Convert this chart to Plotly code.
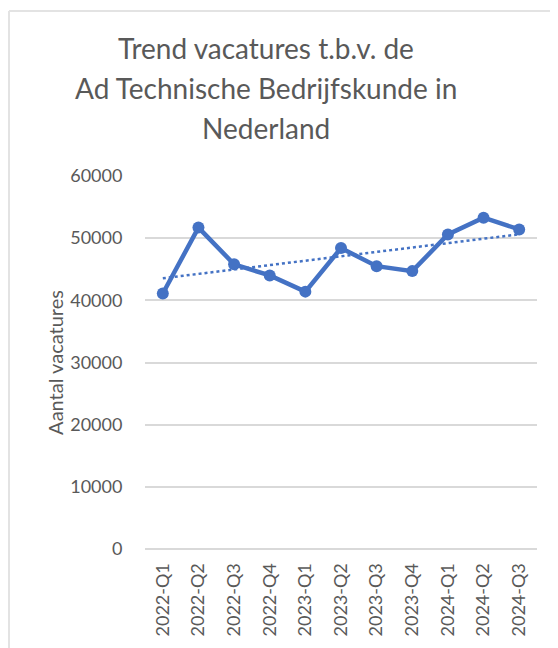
import numpy as np
import plotly.graph_objects as go

categories = ["2022-Q1", "2022-Q2", "2022-Q3", "2022-Q4", "2023-Q1", "2023-Q2",
              "2023-Q3", "2023-Q4", "2024-Q1", "2024-Q2", "2024-Q3"]
vacatures = [41100, 51700, 45800, 44000, 41400, 48400, 45500, 44700, 50600, 53300, 51400]
y_ticks = [0, 10000, 20000, 30000, 40000, 50000, 60000]
title_lines = ["Trend vacatures t.b.v. de", "Ad Technische Bedrijfskunde in", "Nederland"]

idx = np.arange(len(vacatures))
slope, intercept = np.polyfit(idx, vacatures, 1)
trend = slope * idx + intercept

blue = "#4472C4"
gray_text = "#595959"
grid = "#D9D9D9"
font = "Lato"

# plot area in screen pixels (page has 8px body margin)
PX0, PX1, PY0, PY1 = 145, 537, 176, 549
def px(x):
    return (x - PX0) / (PX1 - PX0)
def py(y):
    return (PY1 - y) / (PY1 - PY0)

fig = go.Figure()
fig.add_trace(go.Scatter(x=categories, y=vacatures, mode="lines+markers",
                         line=dict(color=blue, width=4.5),
                         marker=dict(color=blue, size=12), showlegend=False))
fig.add_trace(go.Scatter(x=categories, y=trend, mode="lines",
                         line=dict(color=blue, width=2.5, dash="dot"), showlegend=False))

title_y = [48, 88, 128]
annotations = [dict(text=t, xref="paper", yref="paper", x=px(266), y=py(yy),
                    xanchor="center", yanchor="middle", showarrow=False,
                    font=dict(family=font, size=28, color=gray_text))
               for t, yy in zip(title_lines, title_y)]

fig.update_layout(
    width=550, height=640,
    paper_bgcolor="white", plot_bgcolor="white",
    margin=dict(l=PX0 - 8, r=558 - PX1, t=PY0 - 8, b=648 - PY1),
    font=dict(family=font, color=gray_text),
    annotations=annotations,
    shapes=[
        dict(type="line", xref="paper", yref="paper",
             x0=px(9), x1=px(570), y0=py(11), y1=py(11),
             line=dict(color="#E3E3E3", width=2)),
        dict(type="line", xref="paper", yref="paper",
             x0=px(9), x1=px(9), y0=py(11), y1=py(660),
             line=dict(color="#E3E3E3", width=2)),
    ],
)
fig.update_xaxes(type="category", range=[-0.5, len(categories) - 0.5], automargin=False,
                 tickangle=-90, tickfont=dict(family=font, size=18, color=gray_text),
                 showgrid=False, showline=False, zeroline=False,
                 ticks="outside", ticklen=6, tickcolor="rgba(0,0,0,0)")
fig.update_yaxes(range=[0, 60000], tickvals=y_ticks, ticktext=[str(v) for v in y_ticks],
                 automargin=False,
                 tickfont=dict(family=font, size=18, color=gray_text),
                 showgrid=True, gridcolor=grid, gridwidth=1.5,
                 zeroline=True, zerolinecolor=grid, zerolinewidth=1.5,
                 showline=False, ticks="outside", ticklen=18, tickcolor="rgba(0,0,0,0)",
                 title=dict(text="Aantal vacatures", standoff=1,
                            font=dict(family=font, size=20, color=gray_text)))

fig.write_html("out.html")
